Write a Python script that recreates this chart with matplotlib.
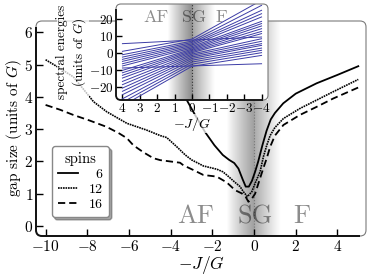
import numpy as np
import matplotlib
matplotlib.use('Agg')
import matplotlib.pyplot as plt
from matplotlib.patches import FancyBboxPatch, Rectangle

plt.rcParams['font.family'] = ['cmr10', 'DejaVu Serif']
plt.rcParams['mathtext.fontset'] = 'cm'
plt.rcParams['axes.formatter.use_mathtext'] = True
plt.rcParams['axes.unicode_minus'] = True

# ---------------- data ----------------
x6 = [-3.4, -2.83, -2.35, -1.9, -1.5, -1.2, -0.95, -0.75, -0.55, -0.4, -0.25, -0.1,
      0.05, 0.2, 0.4, 0.6, 0.8, 1.0, 1.4, 2.0, 3.0, 4.0, 5.0]
y6 = [4.1, 3.44, 2.91, 2.5, 2.2, 2.05, 1.95, 1.78, 1.45, 1.22, 1.22, 1.4,
      1.68, 2.0, 2.5, 2.95, 3.3, 3.5, 3.8, 4.1, 4.42, 4.68, 4.95]

x12 = [-10, -9.3, -8.67, -8.2, -7.7, -7.07, -6.1, -5.15, -4.5, -4.19, -3.7, -3.3, -3.0,
       -2.43, -1.79, -1.5, -1.31, -0.91, -0.67, -0.51, -0.32, -0.11, 0.1, 0.29, 0.45,
       0.61, 0.77, 1.0, 1.41, 2.2, 3.0, 3.8, 5.0]
y12 = [5.15, 4.88, 4.62, 4.25, 3.85, 3.54, 3.18, 2.97, 2.8, 2.74, 2.45, 2.2, 2.05,
       1.86, 1.76, 1.68, 1.58, 1.35, 1.22, 1.06, 0.91, 1.06, 1.4, 1.68, 2.15,
       2.5, 2.8, 3.05, 3.33, 3.64, 3.9, 4.16, 4.54]

x16 = [-10, -9.3, -8.67, -7.9, -7.07, -6.5, -6.1, -5.79, -5.3, -4.83, -4.5, -4.03,
       -3.55, -3.39, -2.9, -2.43, -1.79, -1.31, -0.91, -0.59, -0.4, -0.27, -0.1, 0.05,
       0.29, 0.45, 0.61, 0.77, 1.0, 1.41, 2.2, 3.0, 3.8, 5.0]
y16 = [3.75, 3.6, 3.44, 3.27, 3.07, 2.88, 2.72, 2.5, 2.28, 2.1, 2.04, 2.0,
       1.96, 1.88, 1.73, 1.58, 1.53, 1.35, 1.11, 1.01, 0.9, 0.75, 0.85, 1.0,
       1.48, 1.8, 2.1, 2.45, 2.8, 3.13, 3.44, 3.69, 3.95, 4.29]

spins = ['6', '12', '16']

# inset: spectral energies at -J/G = 4, 0, -4
inset_x = [4, 0, -4]
inset_left = [5.5, 1.0, -1.0, -2.4, -3.7, -4.9, -6.3, -7.6, -8.8, -10.2, -11.6, -13.1,
              -14.7, -16.7, -18.6, -20.6, -22.5, -24.5, -26.9, -29.0, -31.0]
inset_mid = [7.6, 8.2, 7.0, 6.2, 5.4, 4.6, 3.8, 3.0, -7.6, 2.3, 1.6, 0.9,
             0.2, -0.6, -1.4, -2.3, -3.2, -4.2, -5.3, -6.5, -7.8]
inset_right = [9.4, 31.0, 28.0, 25.1, 23.1, 21.2, 18.6, 17.3, -6.3, 15.9, 14.3, 12.7,
               11.4, 8.4, 6.9, 5.5, 4.5, 2.9, 1.6, 0.2, -1.4]

phase_labels = ['AF', 'SG', 'F']
phase_x_main = [-2.8, 0.05, 2.3]
phase_x_inset = [2.07, -0.1, -1.7]

# ---------------- figure ----------------
W_PX, H_PX = 373, 276
fig = plt.figure(figsize=(W_PX / 100, H_PX / 100), dpi=100)


def rounded_frame(ax, r_px=6, lw_dark=1.4, lw_light=0.8):
    for s in ax.spines.values():
        s.set_visible(False)
    bb = ax.get_position()
    W = bb.width * W_PX
    H = bb.height * H_PX
    rs = r_px / W
    ma = W / H
    ry = rs * ma
    style = "round,pad=0,rounding_size=%f" % rs
    p = FancyBboxPatch((0, 0), 1, 1, boxstyle=style, mutation_aspect=ma,
                       transform=ax.transAxes, fill=False, ec='#7a7a7a', lw=lw_light,
                       clip_on=False, zorder=6)
    ax.add_patch(p)
    p2 = FancyBboxPatch((0, 0), 1, 1, boxstyle=style, mutation_aspect=ma,
                        transform=ax.transAxes, fill=False, ec='#111111', lw=lw_dark,
                        zorder=7)
    ax.add_patch(p2)
    clip = Rectangle((-0.2, -0.2), 1.2 - rs, 1.2 - ry, transform=ax.transAxes)
    p2.set_clip_path(clip)


def shade(ax, x0, x1, d0, d1, ylim, n=300, e0=0.9, e1=1.1):
    # gradient band, darkest at x=0; x0 side darkness d0, x1 side darkness d1
    t = np.linspace(0, 1, n)
    xs = x0 + (x1 - x0) * t
    dark = np.where(xs / x0 > 0,
                    d0 * (1 - np.clip(xs / x0, 0, 1)) ** e0,
                    d1 * (1 - np.clip(xs / x1, 0, 1)) ** e1)
    img = np.ones((1, n, 3)) * (1 - dark)[None, :, None]
    ax.imshow(img, extent=[x0, x1, ylim[0], ylim[1]], aspect='auto',
              interpolation='bilinear', zorder=0)


# ---- main axes ----
ax = fig.add_axes([36 / W_PX, 40 / H_PX, 330 / W_PX, 215 / H_PX])
xlim = (-10.46, 5.37)
ylim = (-0.31, 6.35)
shade(ax, -1.3, 1.25, 0.38, 0.33, ylim)
ax.axvline(0, color='#777777', lw=0.8, ls=':', zorder=1)

l6, = ax.plot(x6, y6, color='k', lw=1.3, ls='-', zorder=3)
l12, = ax.plot(x12, y12, color='k', lw=1.2, ls=(0, (1, 0.5)), zorder=3)
l16, = ax.plot(x16, y16, color='k', lw=1.3, ls=(0, (4, 2.2)), zorder=3)

for lab, px in zip(phase_labels, phase_x_main):
    ax.text(px, 0.3, lab, fontsize=19, color='k', alpha=0.45, ha='center', va='center',
            zorder=2)

ax.set_xlim(*xlim)
ax.set_ylim(*ylim)
ax.set_xticks([-10, -8, -6, -4, -2, 0, 2, 4])
ax.set_yticks([0, 1, 2, 3, 4, 5, 6])
ax.tick_params(direction='in', length=5, width=1, top=False, right=False,
               labelsize=11, pad=2)
ax.set_xlabel(r'$-J/G$', fontsize=12.5)
ax.xaxis.set_label_coords(0.5, -0.135)
ax.xaxis.label.set_va('center')
ax.set_ylabel(r'gap size (units of $G$)', fontsize=11)
ax.yaxis.set_label_coords(-0.067, 0.5)
ax.yaxis.label.set_va('center')
rounded_frame(ax, r_px=6)

leg = ax.legend([l6, l12, l16], spins, title='spins', loc='lower left',
                bbox_to_anchor=(0.048, 0.088), borderaxespad=0, fontsize=10,
                title_fontsize=10.5, handlelength=1.4, handletextpad=0.8,
                labelspacing=0.15, fancybox=True, shadow=True, framealpha=1,
                edgecolor='#888888', borderpad=0.45)
leg.get_frame().set_linewidth(1.0)
leg.set_zorder(10)

# ---- inset ----
axi = fig.add_axes([116 / W_PX, 1 - 100 / H_PX, 152 / W_PX, 96 / H_PX])
axi.set_facecolor('white')
ixlim = (4.37, -4.37)
iylim = (-27.6, 28.8)
shade(axi, 1.4, -1.3, 0.45, 0.36, iylim)
axi.axvline(0, color='#333333', lw=0.8, ls=':', zorder=1)
for L, M, R in zip(inset_left, inset_mid, inset_right):
    axi.plot(inset_x, [L, M, R], color='#3c3ca6', lw=0.7, zorder=3)
for lab, px in zip(phase_labels, phase_x_inset):
    axi.text(px, 21.2, lab, fontsize=13, color='k', alpha=0.45, ha='center',
             va='center', zorder=2)
axi.set_xlim(*ixlim)
axi.set_ylim(*iylim)
axi.set_xticks([4, 3, 2, 1, 0, -1, -2, -3, -4])
axi.set_yticks([-20, -10, 0, 10, 20])
axi.tick_params(direction='in', length=4, width=1, top=False, right=False,
                labelsize=9.5, pad=1.5)
axi.set_xlabel(r'$-J/G$', fontsize=10,
               bbox=dict(facecolor='white', alpha=0.75, edgecolor='none', pad=0.5))
axi.xaxis.set_label_coords(0.5, -0.245)
axi.xaxis.label.set_va('center')
axi.set_ylabel('spectral energies\n(units of $G$)', fontsize=9.5, linespacing=1.25,
               bbox=dict(facecolor='white', alpha=0.75, edgecolor='none', pad=0.5))
axi.yaxis.set_label_coords(-0.29, 0.5)
axi.yaxis.label.set_va('center')
rounded_frame(axi, r_px=5, lw_dark=1.3)

# right-align legend labels (shift narrower labels to the right)
fig.canvas.draw()
renderer = fig.canvas.get_renderer()
widths = [t.get_window_extent(renderer).width for t in leg.get_texts()]
wmax = max(widths)
for t, w in zip(leg.get_texts(), widths):
    t.set_position((wmax - w, 0))

fig.savefig('out.png', dpi=100)
